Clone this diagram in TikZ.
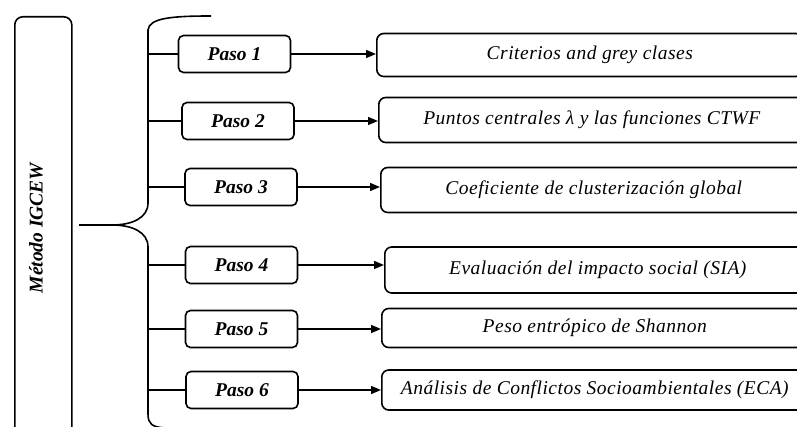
\documentclass[tikz,border=0pt]{standalone}
\usepackage{fontspec}
\setmainfont{Liberation Serif}
\usetikzlibrary{arrows.meta}
\begin{document}
\begin{tikzpicture}[x=1pt,y=-1pt, line width=1.6pt,
  txt/.style={font=\fontsize{19.5}{22}\selectfont\itshape\addfontfeatures{LetterSpace=2.5}},
  pasobox/.style={draw, rounded corners=5pt, minimum width=112pt, minimum height=37pt, inner sep=0pt, font=\fontsize{19.5}{22}\selectfont\bfseries\itshape},
  descbox/.style={draw, rounded corners=7pt, minimum width=426pt, anchor=west, inner sep=0pt, txt},
  arr/.style={-{Triangle[length=10pt,width=8pt]}, line width=1.4pt}]
\useasboundingbox (0,0) rectangle (797,427);
\clip (0,0) rectangle (797,427);
% left box
\node[draw, rounded corners=8pt, minimum width=57pt, minimum height=440pt, anchor=north west, inner sep=0pt] (metodo) at (14,16) {};
\node[rotate=90, font=\fontsize{19.5}{22}\selectfont\bfseries\itshape] (mtxt) at (36,228) {Método IGCEW};
% bracket
\coordinate (br) at (148,0);
\draw (211,16) .. controls (172,16) and (149,18) .. (148,30) -- (148,203)
  .. controls (148,218) and (132,225) .. (112,225) -- (79,225);
\draw (112,225) .. controls (132,225) and (148,232) .. (148,247) -- (148,414)
  .. controls (148,424) and (152,427) .. (165,428);
% paso boxes
\node[pasobox] (p1) at (234.5,54) {Paso 1};
\node[pasobox] (p2) at (238,121) {Paso 2};
\node[pasobox] (p3) at (241,187) {Paso 3};
\node[pasobox] (p4) at (241.5,265) {Paso 4};
\node[pasobox] (p5) at (241.5,329) {Paso 5};
\node[pasobox] (p6) at (242,390) {Paso 6};
% description boxes
\node[descbox, minimum height=43pt] (d1) at (376,55) {Criterios and grey clases};
\node[descbox, minimum height=45pt] (d2) at (378,120) {Puntos centrales λ y las funciones CTWF};
\node[descbox, minimum height=45pt] (d3) at (380,190) {Coeficiente de clusterización global};
\node[descbox, minimum height=46pt] (d4) at (384,270) {Evaluación del impacto social (SIA)};
\node[descbox, minimum height=39pt] (d5) at (381,328) {Peso entrópico de Shannon};
\node[descbox, minimum height=40pt] (d6) at (381,390) {Análisis de Conflictos Socioambientales (ECA)};
% ticks and arrows
\foreach \i in {1,...,6}{
  \draw (p\i.west -| br) -- (p\i.west);
  \draw[arr] (p\i.east) -- (p\i.east -| d\i.west);
}
\end{tikzpicture}
\end{document}
